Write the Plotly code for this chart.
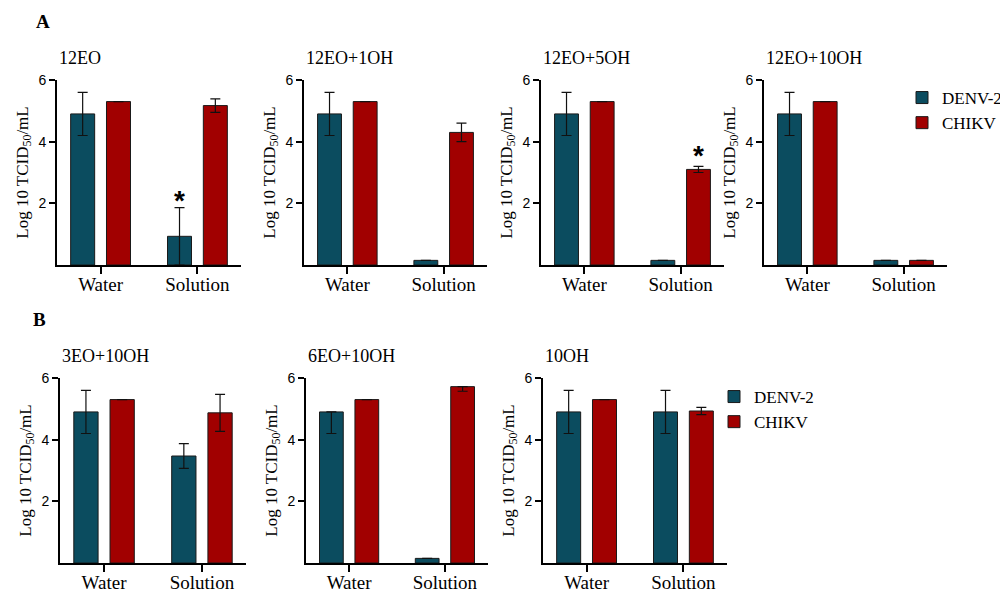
import plotly.graph_objects as go

categories = ["Water", "Solution"]
panels = ["12EO", "12EO+1OH", "12EO+5OH", "12EO+10OH", "3EO+10OH", "6EO+10OH", "10OH"]
denv = [[4.9, 0.93], [4.9, 0.15], [4.9, 0.15], [4.9, 0.15], [4.9, 3.47], [4.9, 0.15], [4.9, 4.9]]
denv_err_plus = [[0.7, 0.93], [0.7, None], [0.7, None], [0.7, None], [0.7, 0.4], [0.0, None], [0.7, 0.7]]
denv_err_minus = [[0.7, 0.93], [0.7, None], [0.7, None], [0.7, None], [0.7, 0.4], [0.7, None], [0.7, 0.7]]
chikv = [[5.3, 5.17], [5.3, 4.3], [5.3, 3.1], [5.3, 0.15], [5.3, 4.87], [5.3, 5.72], [5.3, 4.93]]
chikv_err_plus = [[None, 0.22], [None, 0.3], [None, 0.1], [None, None], [None, 0.6], [None, 0.0], [None, 0.12]]
chikv_err_minus = [[None, 0.22], [None, 0.3], [None, 0.1], [None, None], [None, 0.6], [None, 0.15], [None, 0.12]]
stars = [(0, "DENV-2", 1, 2.3), (2, "CHIKV", 1, 3.75)]  # (panel, series, category index, y)

DENV_COLOR = "#0B4C5F"
CHIKV_COLOR = "#A10000"
SERIF = "Liberation Serif"
SANS = "Liberation Sans"
OFF = 8                      # page body margin
W, H = 1008 - OFF, 592 - OFF  # figure size so that it fills the window


def px(x):
    return (x - OFF) / W


def py(y):
    return 1 - (y - OFF) / H


# pixel layout of the panels in the window: (x_left, x_right, y_top, y_bottom)
boxes = [
    (57, 241, 80, 265), (304, 487, 80, 265), (541, 724, 80, 265), (764, 947, 80, 265),
    (60, 246, 378, 563), (306, 488, 378, 563), (543, 727, 378, 563),
]

fig = go.Figure()
annotations = []
for i, name in enumerate(panels):
    xa = "x" if i == 0 else f"x{i+1}"
    ya = "y" if i == 0 else f"y{i+1}"
    legend = "legend" if i < 4 else "legend2"
    show = i in (0, 4)
    fig.add_trace(go.Bar(
        x=categories, y=denv[i], name="DENV-2", xaxis=xa, yaxis=ya,
        marker=dict(color=DENV_COLOR, line=dict(color="#1a1a1a", width=1)),
        error_y=dict(type="data", symmetric=False, array=denv_err_plus[i], arrayminus=denv_err_minus[i],
                     color="#111", thickness=1.2, width=5),
        legend=legend, showlegend=show, legendgroup=f"d{legend}",
    ))
    fig.add_trace(go.Bar(
        x=categories, y=chikv[i], name="CHIKV", xaxis=xa, yaxis=ya,
        marker=dict(color=CHIKV_COLOR, line=dict(color="#1a1a1a", width=1)),
        error_y=dict(type="data", symmetric=False, array=chikv_err_plus[i], arrayminus=chikv_err_minus[i],
                     color="#111", thickness=1.2, width=5),
        legend=legend, showlegend=show, legendgroup=f"c{legend}",
    ))
    xl, xr, yt, yb = boxes[i]
    axkey = "xaxis" if i == 0 else f"xaxis{i+1}"
    aykey = "yaxis" if i == 0 else f"yaxis{i+1}"
    fig.layout[axkey] = dict(
        domain=[px(xl), px(xr)], anchor=ya, type="category", range=[-0.45, 1.45], automargin=False,
        showline=True, linecolor="black", linewidth=1.6, ticks="outside", ticklen=7, tickwidth=1.6,
        tickcolor="black", showgrid=False, zeroline=False, ticklabelstandoff=-6,
        tickfont=dict(family=SERIF, size=19, color="black"),
    )
    fig.layout[aykey] = dict(
        domain=[py(yb), py(yt)], anchor=xa, range=[0, 6], tickvals=[2, 4, 6], automargin=False,
        showline=True, linecolor="black", linewidth=1.6, ticks="outside", ticklen=6, tickwidth=1.6,
        tickcolor="black", showgrid=False, zeroline=False,
        tickfont=dict(family=SANS, size=14, color="black"),
        title=dict(text="Log 10 TCID<sub>50</sub>/mL", font=dict(family=SERIF, size=17, color="black"), standoff=6),
    )
    annotations.append(dict(
        text=name, xref="paper", yref="paper", x=px(xl), y=py(yt), xanchor="left", yanchor="bottom",
        yshift=10, showarrow=False, font=dict(family=SERIF, size=18, color="black"),
    ))

for p, series, ci, yv in stars:
    xa = "x" if p == 0 else f"x{p+1}"
    ya = "y" if p == 0 else f"y{p+1}"
    annotations.append(dict(
        text="<b>*</b>", x=categories[ci], y=yv, xref=xa, yref=ya, showarrow=False,
        xshift=-18 if series == "DENV-2" else 18, yshift=-6,
        font=dict(family=SANS, size=28, color="black"),
    ))

annotations.append(dict(text="<b>A</b>", xref="paper", yref="paper", x=px(34), y=py(22),
                        xanchor="left", yanchor="middle", showarrow=False,
                        font=dict(family=SERIF, size=19, color="black")))
annotations.append(dict(text="<b>B</b>", xref="paper", yref="paper", x=px(31), y=py(319),
                        xanchor="left", yanchor="middle", showarrow=False,
                        font=dict(family=SERIF, size=19, color="black")))

fig.update_layout(
    width=W, height=H, margin=dict(l=0, r=0, t=0, b=0, autoexpand=False),
    paper_bgcolor="white", plot_bgcolor="white",
    barmode="group", bargap=0.26, bargroupgap=0.33,
    annotations=annotations,
    legend=dict(x=px(902), y=py(80), xanchor="left", yanchor="top",
                font=dict(family=SERIF, size=17, color="black"), bgcolor="rgba(0,0,0,0)",
                tracegroupgap=0, itemwidth=30),
    legend2=dict(x=px(714), y=py(379), xanchor="left", yanchor="top",
                 font=dict(family=SERIF, size=17, color="black"), bgcolor="rgba(0,0,0,0)",
                 tracegroupgap=0, itemwidth=30),
    showlegend=True,
)

fig.write_html("out.html")
